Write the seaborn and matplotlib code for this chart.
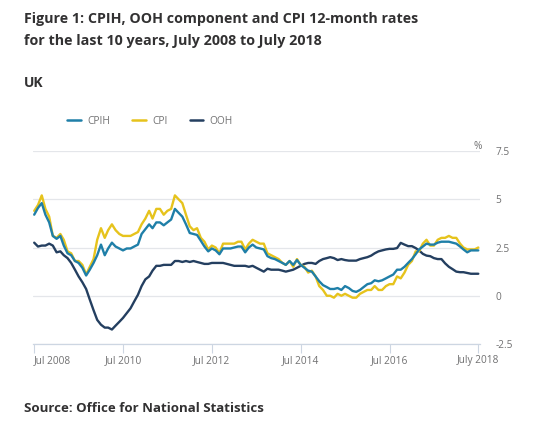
import numpy as np
import pandas as pd
import matplotlib
matplotlib.use("Agg")
import matplotlib.pyplot as plt
from matplotlib.lines import Line2D
import seaborn as sns

# ---- data (12-month rates, %, Jul 2008 .. Jul 2018, monthly) ----
start_month = "2008-07-01"
n_months = 121

cpi = [4.4, 4.7, 5.2, 4.5, 4.1, 3.1,
       3.0, 3.2, 2.9, 2.3, 2.2, 1.8, 1.8, 1.6, 1.1, 1.5, 1.9, 2.9,
       3.5, 3.0, 3.4, 3.7, 3.4, 3.2, 3.1, 3.1, 3.1, 3.2, 3.3, 3.7,
       4.0, 4.4, 4.0, 4.5, 4.5, 4.2, 4.4, 4.5, 5.2, 5.0, 4.8, 4.2,
       3.6, 3.4, 3.5, 3.0, 2.8, 2.4, 2.6, 2.5, 2.2, 2.7, 2.7, 2.7,
       2.7, 2.8, 2.8, 2.4, 2.7, 2.9, 2.8, 2.7, 2.7, 2.2, 2.1, 2.0,
       1.9, 1.7, 1.6, 1.8, 1.5, 1.9, 1.6, 1.5, 1.2, 1.3, 1.0, 0.5,
       0.3, 0.0, 0.0, -0.1, 0.1, 0.0, 0.1, 0.0, -0.1, -0.1, 0.1, 0.2,
       0.3, 0.3, 0.5, 0.3, 0.3, 0.5, 0.6, 0.6, 1.0, 0.9, 1.2, 1.6,
       1.8, 2.3, 2.3, 2.7, 2.9, 2.6, 2.6, 2.9, 3.0, 3.0, 3.1, 3.0,
       3.0, 2.7, 2.5, 2.4, 2.4, 2.4, 2.5]

cpih = [4.2, 4.55, 4.8, 4.2, 3.8, 3.1,
        2.95, 3.1, 2.6, 2.2, 2.1, 1.8, 1.7, 1.45, 1.05, 1.35, 1.7, 2.1,
        2.65, 2.1, 2.45, 2.75, 2.55, 2.45, 2.35, 2.45, 2.45, 2.55, 2.65, 3.2,
        3.45, 3.7, 3.5, 3.8, 3.8, 3.65, 3.8, 3.95, 4.5, 4.3, 4.1, 3.7,
        3.25, 3.2, 3.15, 2.85, 2.55, 2.3, 2.45, 2.35, 2.15, 2.45, 2.45, 2.45,
        2.5, 2.55, 2.55, 2.25, 2.5, 2.65, 2.5, 2.45, 2.4, 2.05, 1.95, 1.9,
        1.8, 1.7, 1.6, 1.8, 1.6, 1.85, 1.6, 1.45, 1.3, 1.25, 1.0, 0.75,
        0.55, 0.45, 0.35, 0.35, 0.4, 0.3, 0.5, 0.4, 0.25, 0.2, 0.3, 0.45,
        0.6, 0.65, 0.8, 0.75, 0.8, 0.9, 1.0, 1.1, 1.35, 1.35, 1.5, 1.7,
        1.9, 2.15, 2.4, 2.55, 2.7, 2.65, 2.65, 2.75, 2.8, 2.8, 2.8, 2.75,
        2.7, 2.55, 2.4, 2.25, 2.35, 2.35, 2.35]

ooh = [2.75, 2.55, 2.6, 2.6, 2.7, 2.6,
       2.25, 2.3, 2.1, 1.95, 1.7, 1.35, 1.0, 0.7, 0.35, -0.2, -0.75, -1.25,
       -1.5, -1.65, -1.65, -1.75, -1.55, -1.35, -1.15, -0.9, -0.65, -0.3, 0.05, 0.5,
       0.85, 1.0, 1.3, 1.55, 1.55, 1.6, 1.6, 1.6, 1.8, 1.8, 1.75, 1.8,
       1.75, 1.8, 1.75, 1.7, 1.65, 1.65, 1.7, 1.7, 1.7, 1.7, 1.65, 1.6,
       1.55, 1.55, 1.55, 1.55, 1.5, 1.55, 1.45, 1.35, 1.25, 1.4, 1.35, 1.35,
       1.35, 1.3, 1.25, 1.3, 1.35, 1.45, 1.55, 1.65, 1.7, 1.7, 1.65, 1.8,
       1.9, 1.95, 2.0, 1.95, 1.85, 1.9, 1.85, 1.82, 1.82, 1.82, 1.9, 1.95,
       2.0, 2.08, 2.2, 2.3, 2.35, 2.4, 2.43, 2.43, 2.47, 2.74, 2.65, 2.57,
       2.57, 2.47, 2.35, 2.17, 2.08, 2.05, 1.95, 1.9, 1.9, 1.68, 1.5, 1.38,
       1.25, 1.22, 1.22, 1.18, 1.14, 1.14, 1.14]

series_names = ["CPIH", "CPI", "OOH"]
series_colors = ["#1f7fa8", "#e6c31c", "#243f60"]

tick_dates = ["2008-07-01", "2010-07-01", "2012-07-01", "2014-07-01", "2016-07-01", "2018-07-01"]
tick_labels = ["Jul 2008", "Jul 2010", "Jul 2012", "Jul 2014", "Jul 2016", "July 2018"]
y_ticks = [-2.5, 0, 2.5, 5, 7.5]
y_tick_labels = ["-2.5", "0", "2.5", "5", "7.5"]

title = ("Figure 1: CPIH, OOH component and CPI 12-month rates\n"
         "for the last 10 years, July 2008 to July 2018")
subtitle = "UK"
source = "Source: Office for National Statistics"

# ---- build long table ----
dates = pd.date_range(start_month, periods=n_months, freq="MS")
df = pd.concat([
    pd.DataFrame({"date": dates, "value": vals, "series": name})
    for name, vals in zip(series_names, [cpih, cpi, ooh])
], ignore_index=True)

sns.set_theme(style="white")
plt.rcParams["font.family"] = ["Open Sans", "DejaVu Sans"]

W, H = 540, 423
fig = plt.figure(figsize=(W / 100, H / 100), dpi=100)
fig.patch.set_facecolor("white")
ax_l, ax_r, ax_t, ax_b = 33, 480, 151, 344
ax = fig.add_axes([ax_l / W, 1 - ax_b / H, (ax_r - ax_l) / W, (ax_b - ax_t) / H])

sns.lineplot(data=df, x="date", y="value", hue="series",
             hue_order=["OOH", "CPI", "CPIH"],
             palette={n: c for n, c in zip(series_names, series_colors)},
             linewidth=1.7, ax=ax, legend=False)

ax.set_xlim(pd.Timestamp("2008-06-21"), pd.Timestamp("2018-07-15"))
ax.set_ylim(-2.5, 7.5)
ax.set_xlabel("")
ax.set_ylabel("")

grey_text = "#707071"
axis_col = "#cdd6e2"

# y axis on the right
ax.yaxis.tick_right()
ax.set_yticks(y_ticks)
ax.set_yticklabels(y_tick_labels, fontsize=7.3, color=grey_text, ha="left")
ax.tick_params(axis="y", length=0, pad=11)
ax.grid(axis="y", color="#e4e6ea", linewidth=0.9)
ax.grid(axis="x", visible=False)

# x axis
ax.set_xticks([pd.Timestamp(d) for d in tick_dates])
ax.set_xticklabels(tick_labels, fontsize=7.3, color=grey_text)
ax.get_xticklabels()[0].set_ha("left")
ax.tick_params(axis="x", direction="out", length=6.5, width=0.8, color=axis_col, pad=1.5, bottom=True)

for s in ["top", "left", "right"]:
    ax.spines[s].set_visible(False)
ax.spines["bottom"].set_color(axis_col)
ax.spines["bottom"].set_linewidth(0.9)

# "%" unit label
fig.text(478 / W, 1 - 146 / H, "%", fontsize=7.3, color=grey_text, ha="center", va="center")

# titles
title_col = "#323132"
lines = title.split("\n")
fig.text(24 / W, 1 - 23 / H, lines[0], fontsize=10.3, fontweight="bold", color=title_col, va="baseline")
fig.text(24 / W, 1 - 45 / H, lines[1], fontsize=10.3, fontweight="bold", color=title_col, va="baseline")
fig.text(24 / W, 1 - 87 / H, subtitle, fontsize=10, fontweight="bold", color=title_col, va="baseline")
fig.text(24 / W, 1 - 412 / H, source, fontsize=9.5, fontweight="bold", color=title_col, va="baseline")

# legend
handles = [Line2D([0], [0], color=c, lw=1.8) for c in series_colors]
fig.legend(handles, series_names, loc="center", bbox_to_anchor=(150 / W, 1 - 121 / H),
           ncol=3, frameon=False, fontsize=7.3, labelcolor=grey_text,
           handlelength=1.35, handletextpad=0.6, columnspacing=2.2, borderpad=0, borderaxespad=0)

fig.savefig("out.png", dpi=100, facecolor="white")
